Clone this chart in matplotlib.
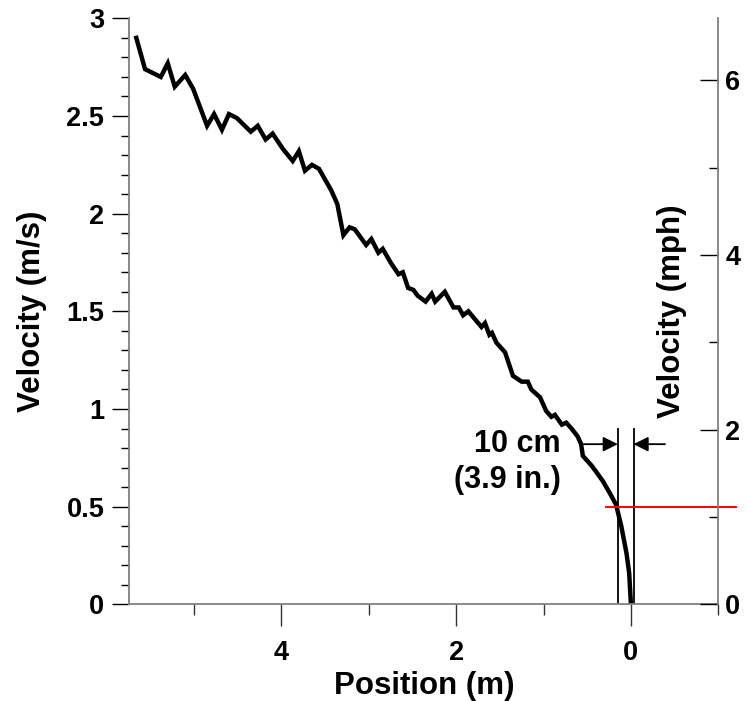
import matplotlib
matplotlib.use("Agg")
import matplotlib.pyplot as plt
from matplotlib.ticker import MultipleLocator, FixedLocator

plt.rcParams['font.family'] = ['Liberation Sans', 'DejaVu Sans']
plt.rcParams['font.weight'] = 'bold'

position_m = [5.66, 5.56, 5.38, 5.30, 5.22, 5.10, 5.01, 4.85, 4.77, 4.68, 4.60, 4.51,
              4.35, 4.27, 4.18, 4.10, 3.98, 3.87, 3.80, 3.73, 3.65, 3.57, 3.43, 3.36,
              3.29, 3.22, 3.16, 3.03, 2.97, 2.89, 2.84, 2.75, 2.66, 2.61, 2.55, 2.49,
              2.44, 2.35, 2.28, 2.24, 2.13, 2.03, 1.97, 1.92, 1.86, 1.71, 1.67, 1.62,
              1.59, 1.54, 1.44, 1.35, 1.25, 1.18, 1.14, 1.04, 0.97, 0.91, 0.87, 0.79,
              0.74, 0.68, 0.61, 0.57, 0.55, 0.45, 0.40, 0.32, 0.23, 0.17, 0.11, 0.05,
              0.02, 0.005, 0.0]
velocity_ms = [2.90, 2.74, 2.70, 2.77, 2.65, 2.71, 2.64, 2.45, 2.51, 2.43, 2.51, 2.49,
               2.42, 2.45, 2.38, 2.41, 2.33, 2.27, 2.32, 2.22, 2.25, 2.23, 2.12, 2.05,
               1.89, 1.93, 1.92, 1.84, 1.87, 1.80, 1.82, 1.75, 1.69, 1.70, 1.62, 1.61,
               1.58, 1.55, 1.59, 1.55, 1.60, 1.52, 1.52, 1.48, 1.50, 1.42, 1.44, 1.38,
               1.39, 1.34, 1.29, 1.17, 1.14, 1.14, 1.10, 1.06, 0.99, 0.96, 0.97, 0.92,
               0.93, 0.90, 0.86, 0.82, 0.76, 0.71, 0.68, 0.63, 0.56, 0.51, 0.40, 0.26,
               0.16, 0.04, 0.0]

x_major = [4, 2, 0]
x_minor = [5, 3, 1, -1]
y_major = [0, 0.5, 1, 1.5, 2, 2.5, 3]
y_major_labels = ['0', '0.5', '1', '1.5', '2', '2.5', '3']
mph_major = [0, 2, 4, 6]
mph_minor = [1, 3, 5]
gap_lines = [0.15, -0.03]
threshold_ms = 0.5
MS_TO_MPH = 2.23694

fig = plt.figure(figsize=(7.47, 7.01), dpi=100)
ax = fig.add_axes([0.1731, 0.1379, 0.7885, 0.8359])
ax.plot(position_m, velocity_ms, color='black', lw=3.2, solid_joinstyle='miter')
ax.set_xlim(5.74, -1.0)
ax.set_ylim(0, 3)

spine_c = '#808080'
for s in ['left', 'bottom']:
    ax.spines[s].set_color(spine_c)
    ax.spines[s].set_linewidth(1.3)
ax.spines['top'].set_visible(False)
ax.spines['right'].set_visible(False)

ax.xaxis.set_major_locator(FixedLocator(x_major))
ax.xaxis.set_minor_locator(FixedLocator(x_minor))
ax.set_yticks(y_major)
ax.set_yticklabels(y_major_labels)
ax.yaxis.set_minor_locator(MultipleLocator(0.1))
ax.tick_params(axis='x', which='major', direction='out', length=16, width=1, color='#333333',
               labelsize=19.5, pad=10)
ax.tick_params(axis='x', which='minor', direction='out', length=8, width=1, color='#333333')
ax.tick_params(axis='y', which='major', direction='out', length=12, width=1, color='black',
               labelsize=19.5, pad=6)
ax.tick_params(axis='y', which='minor', direction='out', length=6, width=1, color='black')
for lbl in ax.get_xticklabels() + ax.get_yticklabels():
    lbl.set_fontweight('bold')

ax.set_xlabel('Position (m)', fontsize=22.5, fontweight='bold', labelpad=3)
ax.set_ylabel('Velocity (m/s)', fontsize=22.5, fontweight='bold')
ax.yaxis.set_label_coords(-0.14, 0.5)

ax2 = ax.twinx()
ax2.set_ylim(0, 3 * MS_TO_MPH)
for s in ['left', 'bottom', 'top']:
    ax2.spines[s].set_visible(False)
ax2.spines['right'].set_color(spine_c)
ax2.spines['right'].set_linewidth(1.3)
ax2.yaxis.set_major_locator(FixedLocator(mph_major))
ax2.yaxis.set_minor_locator(FixedLocator(mph_minor))
ax2.tick_params(axis='y', which='major', direction='in', length=13, width=1, color='black',
                labelsize=19.5, pad=5)
ax2.tick_params(axis='y', which='minor', direction='in', length=6.5, width=1, color='black')
for lbl in ax2.get_yticklabels():
    lbl.set_fontweight('bold')
ax.text(0.921, 0.5, 'Velocity (mph)', transform=ax.transAxes, rotation=90,
        ha='center', va='center', fontsize=22.5, fontweight='bold')

# reference lines
for gx in gap_lines:
    ax.plot([gx, gx], [0, 0.90], color='black', lw=1.3)
ax.plot([0.28, -1.2], [threshold_ms, threshold_ms], color='red', lw=1.4, clip_on=False)

arrow_kw = dict(arrowstyle='-|>', color='black', lw=1.3, mutation_scale=22,
                shrinkA=0, shrinkB=0)
ax.annotate('', xy=(gap_lines[0], 0.82), xytext=(0.54, 0.82), arrowprops=arrow_kw)
ax.annotate('', xy=(gap_lines[1], 0.82), xytext=(-0.39, 0.82), arrowprops=arrow_kw)
ax.text(0.80, 0.82, '10 cm', ha='right', va='center', fontsize=22, fontweight='bold')
ax.text(0.80, 0.635, '(3.9 in.)', ha='right', va='center', fontsize=22, fontweight='bold')

fig.savefig('out.png', dpi=100)
